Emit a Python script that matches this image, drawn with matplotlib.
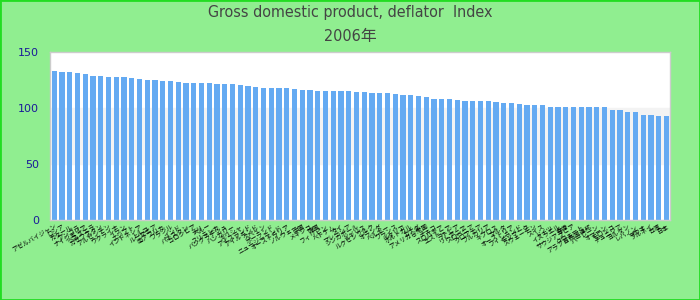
import matplotlib
matplotlib.use("Agg")
import matplotlib.pyplot as plt
from matplotlib.patches import Rectangle
from matplotlib import font_manager

title_line1 = "Gross domestic product, deflator  Index"
title_line2 = "2006年"

countries = [
    "アゼルバイジャン", "ロシア", "カタール", "アンゴラ", "ナイジェリア", "ベネズエラ",
    "カザフスタン", "アルゼンチン", "ウクライナ", "イラン", "エジプト", "インドネシア",
    "トルコ", "ルーマニア", "南アフリカ", "ブラジル", "インド", "パキスタン",
    "コロンビア", "チリ", "ペルー", "スリランカ", "バングラデシュ", "ハンガリー",
    "ギリシャ", "アイスランド", "アイルランド", "スペイン", "ポーランド", "ニュージーランド",
    "オーストラリア", "ノルウェー", "中国", "メキシコ", "韓国", "フィリピン",
    "ベトナム", "タイ", "マレーシア", "シンガポール", "イギリス", "ルクセンブルク",
    "オランダ", "ベルギー", "フランス", "イタリア", "ポルトガル", "カナダ",
    "アメリカ合衆国", "チェコ", "スロバキア", "エストニア", "ラトビア", "リトアニア",
    "スロベニア", "クロアチア", "ブルガリア", "キプロス", "マルタ", "オーストリア",
    "フィンランド", "デンマーク", "スウェーデン", "スイス", "ドイツ", "イスラエル",
    "香港", "サウジアラビア", "クウェート", "アラブ首長国連邦", "バーレーン", "オマーン",
    "モロッコ", "チュニジア", "ヨルダン", "レバノン", "マカオ", "ブルネイ",
    "台湾", "日本",
]

values = [
    132.8, 131.9, 131.9, 131.0, 130.1, 128.3, 128.3, 127.4, 127.4, 127.4,
    126.5, 125.6, 124.7, 124.7, 123.9, 123.9, 123.0, 122.1, 122.1, 122.1,
    122.1, 121.2, 121.2, 121.2, 120.3, 119.4, 118.5, 117.6, 117.6, 117.6,
    117.6, 116.8, 115.9, 115.9, 115.0, 115.0, 115.0, 115.0, 115.0, 114.1,
    114.1, 113.2, 113.2, 113.2, 112.3, 111.4, 111.4, 110.5, 109.6, 107.8,
    107.8, 107.8, 107.0, 106.1, 106.1, 106.1, 106.1, 105.2, 104.3, 104.3,
    103.4, 102.5, 102.5, 102.5, 100.7, 100.7, 100.7, 100.7, 100.7, 100.7,
    100.7, 100.7, 98.0, 98.0, 96.3, 96.3, 93.6, 93.6, 92.7, 92.7,
]

y_ticks = [0, 50, 100, 150]

# pick a condensed latin font if one is installed
names = {f.name for f in font_manager.fontManager.ttflist}
stretch = "normal"
title_fam = "Liberation Sans"
for cand in ["Liberation Sans Narrow", "Arial Narrow"]:
    if cand in names:
        title_fam = cand
        break
else:
    cond = [f for f in font_manager.fontManager.ttflist
            if "Condensed" in f.fname and "DejaVuSans" in f.fname.replace("-", "")]
    if cond:
        title_fam = "DejaVu Sans"
        stretch = "condensed"

bg = "#90EE90"
fig = plt.figure(figsize=(7, 3), dpi=100, facecolor=bg)
fig.patches.append(Rectangle((0, 0), 1, 1, transform=fig.transFigure,
                             fill=False, edgecolor="#22DD22", linewidth=2))

ax = fig.add_axes([50/700, 1-220/300, 620/700, (220-51.7)/300])
ax.set_facecolor("white")
ax.axhspan(50, 100, color="#f3f3f3", zorder=0)
x = list(range(len(values)))
ax.bar(x, values, width=0.65, color="#64AAF2", zorder=2)
ax.set_xlim(-0.55, len(values) - 0.55)
ax.set_ylim(0, 150)
ax.set_yticks(y_ticks)
ax.set_yticklabels([str(t) for t in y_ticks], color="#1a1a99", fontsize=8,
                   family=["DejaVu Sans"])
ax.tick_params(axis="y", length=0, pad=8)
ax.tick_params(axis="x", length=0, pad=2)
ax.set_xticks(x)
ax.set_xticklabels(countries, rotation=30, ha="right", rotation_mode="anchor",
                   fontsize=4.5, family=["Noto Sans CJK JP", "DejaVu Sans"])
for s in ax.spines.values():
    s.set_color("#cccccc")
    s.set_linewidth(1)

fs = 11.5 if stretch == "condensed" or title_fam != "Liberation Sans" else 10
fig.text(0.5, 1-13/300, title_line1, ha="center", va="center", fontsize=fs,
         color="#444444", family=[title_fam, "Noto Sans CJK JP"], fontstretch=stretch)
fig.text(0.5, 1-36/300, title_line2, ha="center", va="center", fontsize=fs,
         color="#444444", family=[title_fam, "Noto Sans CJK JP"], fontstretch=stretch)

fig.savefig("out.png", dpi=100, facecolor=bg)
